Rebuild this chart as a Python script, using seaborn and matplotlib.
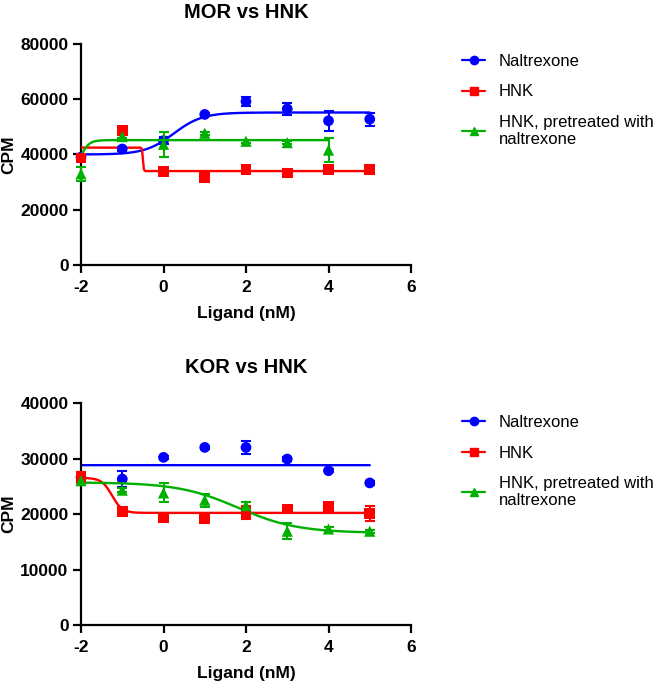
import numpy as np
import pandas as pd
import matplotlib
matplotlib.use("Agg")
import matplotlib.pyplot as plt
from matplotlib.lines import Line2D
import seaborn as sns

# ---------------- data ----------------
doses = [-2, -1, 0, 1, 2, 3, 4, 5]
labels = ["Naltrexone", "HNK", "HNK, pretreated with\nnaltrexone"]

mor_nal = [39000, 42000, 45000, 54500, 59200, 56500, 52200, 52800]
mor_nal_err = [900, 700, 1200, 700, 1700, 2300, 3600, 2400]
mor_hnk = [38700, 48800, 33900, 31600, 34600, 33300, 34500, 34600]
mor_hnk_err = [800, 700, 500, 500, 600, 1300, 500, 1500]
mor_pre_doses = [-2, -1, 0, 1, 2, 3, 4]
mor_pre = [33000, 46500, 43700, 47700, 44800, 44300, 41600]
mor_pre_err = [2500, 600, 4500, 600, 500, 500, 4200]

kor_nal = [26600, 26300, 30200, 32000, 32000, 29900, 27800, 25600]
kor_nal_err = [1000, 1400, 300, 300, 1200, 300, 300, 300]
kor_hnk = [26600, 20400, 19400, 19100, 20300, 20900, 21400, 20100]
kor_hnk_err = [1000, 400, 400, 800, 1200, 400, 400, 1300]
kor_pre = [26000, 24300, 23800, 22500, 21500, 16900, 17300, 16900]
kor_pre_err = [300, 400, 1700, 1150, 600, 1450, 300, 300]

# fitted curve parameters: (left plateau, right plateau, logEC50, hill, x_end)
mor_fits = [(40000, 55200, 0.25, 1.25, 5),
            (42500, 34000, -0.5, 40.0, 5),
            (30000, 45200, -2.05, 4.0, 4)]
kor_fits = [(28800, 28800, 0.0, 1.0, 5),
            (26500, 20200, -1.25, 3.5, 5),
            (25700, 16600, 1.8, 0.6, 5)]

colors = ["#0000FF", "#FF0000", "#00B000"]
markers = ["o", "s", "^"]

# ---------------- style ----------------
sns.set_style("ticks")
plt.rcParams["font.family"] = ["Liberation Sans", "DejaVu Sans"]
plt.rcParams["axes.unicode_minus"] = False
plt.rcParams["text.color"] = "black"
plt.rcParams["axes.labelcolor"] = "black"

W, H = 666, 683
fig = plt.figure(figsize=(W / 100, H / 100), dpi=100)


def curve(p, xs):
    a, b, ec, h, _ = p
    return a + (b - a) / (1 + 10 ** ((ec - xs) * h))


def panel(rect, title, series, fits, ylim, yticks, legend_top, title_pad):
    ax = fig.add_axes(rect)
    order = [2, 1, 0]
    for i in order:
        xs_d, ys, es = series[i]
        p = fits[i]
        xs = np.linspace(-2, p[4], 1500)
        sns.lineplot(x=xs, y=curve(p, xs), ax=ax, color=colors[i], lw=1.7,
                     zorder=2 + i, legend=False)
        eb = ax.errorbar(xs_d, ys, yerr=es, fmt="none", ecolor=colors[i],
                         elinewidth=1.5, capsize=3.5, capthick=1.5, zorder=2 + i)
        for art in eb.lines[1] + eb.lines[2]:
            art.set_clip_on(False)
        sns.scatterplot(x=xs_d, y=ys, ax=ax, color=colors[i],
                        marker=markers[i],
                        s=60 if markers[i] != "^" else 65, edgecolor="none",
                        zorder=3 + i, legend=False)
    for c in ax.collections:
        c.set_clip_on(False)
    ax.set_xlim(-2, 6)
    ax.set_ylim(*ylim)
    ax.set_xticks([-2, 0, 2, 4, 6])
    ax.set_yticks(yticks)
    ax.set_yticklabels([str(v) for v in yticks])
    sns.despine(ax=ax)
    for s in ["left", "bottom"]:
        ax.spines[s].set_linewidth(1.6)
        ax.spines[s].set_color("black")
    ax.tick_params(axis="both", direction="out", length=6, width=1.6,
                   labelsize=12.5, colors="black")
    ax.tick_params(axis="x", pad=5)
    ax.tick_params(axis="y", pad=3)
    for t in ax.get_xticklabels() + ax.get_yticklabels():
        t.set_fontweight("bold")
    ax.set_ylabel("CPM", fontsize=12.5, fontweight="bold", labelpad=3)
    ax.set_xlabel("Ligand (nM)", fontsize=12.5, fontweight="bold", labelpad=7.5)
    ax.set_title(title, fontsize=14.5, fontweight="bold", pad=title_pad,
                 color="black")
    handles = [Line2D([0], [0], color=colors[i], marker=markers[i], lw=1.6,
                      markersize=6) for i in range(3)]
    ax.legend(handles, labels, loc="upper left",
              bbox_to_anchor=(462 / W, 1 - legend_top / H),
              bbox_transform=fig.transFigure, frameon=False, borderpad=0,
              borderaxespad=0, fontsize=12, handlelength=1.4,
              handletextpad=0.8, labelspacing=0.93, labelcolor="black")
    return ax


top_series = [(doses, mor_nal, mor_nal_err), (doses, mor_hnk, mor_hnk_err),
              (mor_pre_doses, mor_pre, mor_pre_err)]
bot_series = [(doses, kor_nal, kor_nal_err), (doses, kor_hnk, kor_hnk_err),
              (doses, kor_pre, kor_pre_err)]

panel([81 / W, 1 - 265 / H, 330 / W, 221 / H], "MOR vs HNK", top_series,
      mor_fits, (0, 80000), [0, 20000, 40000, 60000, 80000], 54, 18.5)
panel([81 / W, 1 - 625 / H, 330 / W, 222 / H], "KOR vs HNK", bot_series,
      kor_fits, (0, 40000), [0, 10000, 20000, 30000, 40000], 415, 21.5)

fig.savefig("out.png", dpi=100)
